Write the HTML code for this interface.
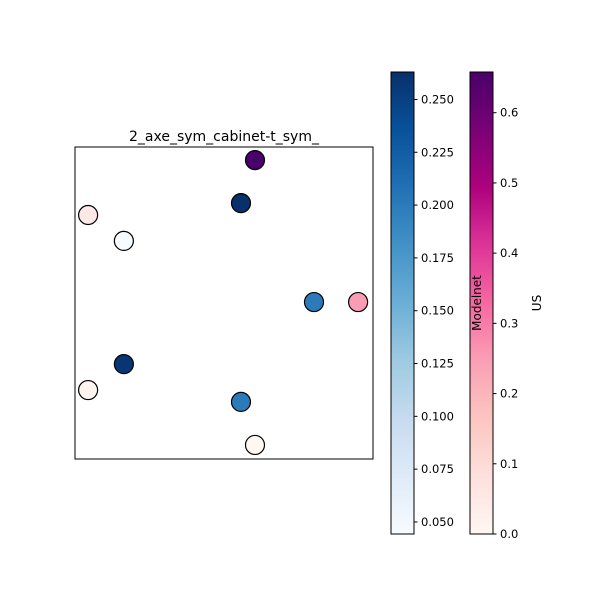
<!DOCTYPE html>
<html><head><meta charset="utf-8"><style>
body{margin:0;background:#fff;font-family:"Liberation Sans","DejaVu Sans",sans-serif}
svg text{font-family:"DejaVu Sans","Liberation Sans",sans-serif;font-size:11.5px;fill:#000}
</style></head><body>
<svg id="chart" width="600" height="600" viewBox="0 0 600 600" xmlns="http://www.w3.org/2000/svg">
<defs>
<linearGradient id="gBlues" x1="0" y1="1" x2="0" y2="0">
<stop offset="0" stop-color="#f7fbff"/><stop offset="0.125" stop-color="#deebf7"/><stop offset="0.25" stop-color="#c6dbef"/><stop offset="0.375" stop-color="#9ecae1"/><stop offset="0.5" stop-color="#6baed6"/><stop offset="0.625" stop-color="#4292c6"/><stop offset="0.75" stop-color="#2171b5"/><stop offset="0.875" stop-color="#08519c"/><stop offset="1" stop-color="#08306b"/>
</linearGradient>
<linearGradient id="gRdPu" x1="0" y1="1" x2="0" y2="0">
<stop offset="0" stop-color="#fff7f3"/><stop offset="0.125" stop-color="#fde0dd"/><stop offset="0.25" stop-color="#fcc5c0"/><stop offset="0.375" stop-color="#fa9fb5"/><stop offset="0.5" stop-color="#f768a1"/><stop offset="0.625" stop-color="#dd3497"/><stop offset="0.75" stop-color="#ae017e"/><stop offset="0.875" stop-color="#7a0177"/><stop offset="1" stop-color="#49006a"/>
</linearGradient>
</defs>
<rect x="75" y="147" width="298" height="312" fill="#fff" stroke="#000" stroke-width="1"/>
<text x="224" y="141" text-anchor="middle" style="font-size:14px">2_axe_sym_cabinet-t_sym_</text>
<g id="points"></g>
<rect x="391" y="72" width="23" height="462" fill="url(#gBlues)" stroke="#000" stroke-width="1"/>
<rect x="470" y="72" width="23" height="462" fill="url(#gRdPu)" stroke="#000" stroke-width="1"/>
<g id="ticks"></g>
<text transform="translate(481,303) rotate(-90)" text-anchor="middle" style="font-size:12px">Modelnet</text>
<text transform="translate(541,303) rotate(-90)" text-anchor="middle" style="font-size:12px">US</text>
</svg>
<script>
const modelnetX = [5.57, 8.02, 1.64, 5.57, 1.64];
const modelnetY = [8.2, 5.03, 3.04, 1.83, 6.99];
const modelnetVal = [0.263, 0.2, 0.258, 0.2, 0.045];
const usX = [6.04, 0.44, 9.5, 0.44, 6.04];
const usY = [9.58, 7.82, 5.03, 2.21, 0.45];
const usVal = [0.658, 0.05, 0.25, 0.01, 0.0];
const modelnetTicks = [0.05, 0.075, 0.1, 0.125, 0.15, 0.175, 0.2, 0.225, 0.25];
const usTicks = [0.0, 0.1, 0.2, 0.3, 0.4, 0.5, 0.6];
const mMin = 0.0443, mMax = 0.263, uMin = 0, uMax = 0.658;
const blues = ["#f7fbff","#deebf7","#c6dbef","#9ecae1","#6baed6","#4292c6","#2171b5","#08519c","#08306b"];
const rdpu = ["#fff7f3","#fde0dd","#fcc5c0","#fa9fb5","#f768a1","#dd3497","#ae017e","#7a0177","#49006a"];
const NS = "http://www.w3.org/2000/svg";
function xs(v){return 75 + v/10*298;}
function ys(v){return 459 - v/10*312;}
function cbY(v,min,max){return 534 - (v-min)/(max-min)*462;}
function cmap(stops,t){
  t=Math.max(0,Math.min(1,t));const p=t*(stops.length-1);const i=Math.min(Math.floor(p),stops.length-2);const f=p-i;
  const a=stops[i],b=stops[i+1];const c=k=>Math.round(parseInt(a.substr(k,2),16)*(1-f)+parseInt(b.substr(k,2),16)*f);
  return `rgb(${c(1)},${c(3)},${c(5)})`;
}
const pts=document.getElementById('points');
function dot(x,y,fill,name){
  const c=document.createElementNS(NS,'circle');
  c.setAttribute('cx',xs(x));c.setAttribute('cy',ys(y));c.setAttribute('r',9.5);
  c.setAttribute('fill',fill);c.setAttribute('stroke','#000');c.setAttribute('stroke-width',1.2);
  
  
  pts.appendChild(c);
}
modelnetX.forEach((x,i)=>dot(x,modelnetY[i],cmap(blues,(modelnetVal[i]-mMin)/(mMax-mMin)),'modelnet-point'));
usX.forEach((x,i)=>dot(x,usY[i],cmap(rdpu,(usVal[i]-uMin)/(uMax-uMin)),'us-point'));
const tk=document.getElementById('ticks');
function tick(x,y,label,name){
  const l=document.createElementNS(NS,'line');
  l.setAttribute('x1',x);l.setAttribute('x2',x+3.5);l.setAttribute('y1',y);l.setAttribute('y2',y);l.setAttribute('stroke','#000');
  
  
  tk.appendChild(l);
  const t=document.createElementNS(NS,'text');
  t.setAttribute('x',x+7);t.setAttribute('y',y+4);t.textContent=label;
  
  
  tk.appendChild(t);
}
modelnetTicks.forEach(v=>tick(414,cbY(v,mMin,mMax),v.toFixed(3),'modelnet'));
usTicks.forEach(v=>tick(493,cbY(v,uMin,uMax),v.toFixed(1),'us'));
</script>
</body></html>
